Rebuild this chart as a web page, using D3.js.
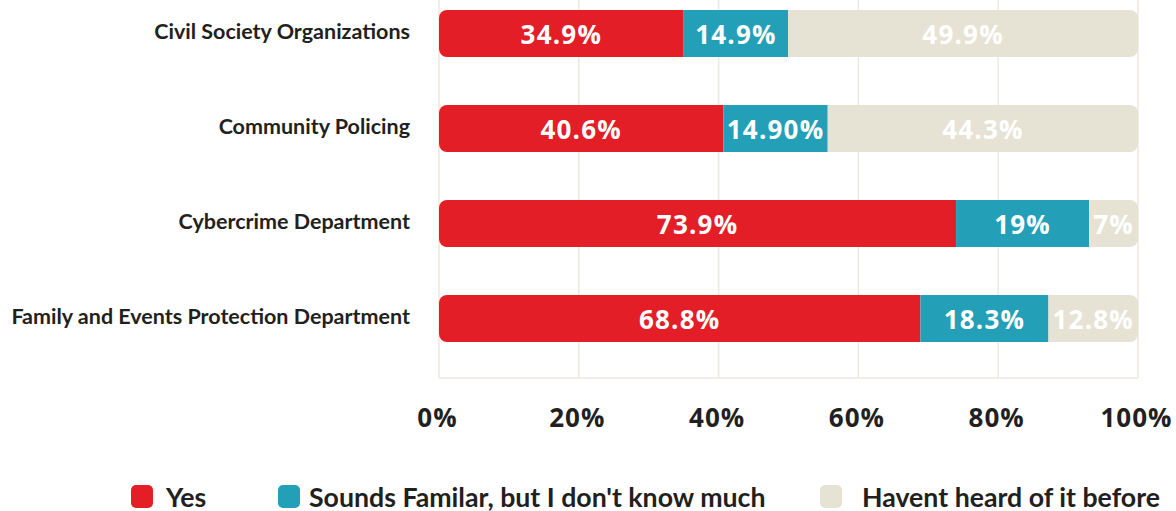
<!DOCTYPE html>
<html>
<head>
<meta charset="utf-8">
<script src="https://cdn.jsdelivr.net/npm/d3@7"></script>
<style>
  html, body { margin: 0; padding: 0; background: #ffffff; }
  svg { display: block; }
</style>
</head>
<body>
<svg id="chart" width="1176" height="511"></svg>
<script>
// Awareness of each service, by answer (percent, as reported)
const categories = [
  "Civil Society Organizations",
  "Community Policing",
  "Cybercrime Department",
  "Family and Events Protection Department"
];
const yesValues      = ["34.9", "40.6", "73.9", "68.8"];
const familiarValues = ["14.9", "14.90", "19", "18.3"];
const notHeardValues = ["49.9", "44.3", "7", "12.8"];

const seriesKeys   = ["yes", "familiar", "notHeard"];
const seriesNames  = ["Yes", "Sounds Familar, but I don't know much", "Havent heard of it before"];
const seriesColors = ["#e31e26", "#23a0b7", "#e6e3d4"];
const labelColors  = ["#ffffff", "#ffffff", "#ffffff"];
const tickValues   = [0, 0.2, 0.4, 0.6, 0.8, 1];

// Row records for the stack layout
const rows = categories.map((c, i) => ({
  category: c,
  yes: +yesValues[i],
  familiar: +familiarValues[i],
  notHeard: +notHeardValues[i],
  labels: { yes: yesValues[i], familiar: familiarValues[i], notHeard: notHeardValues[i] }
}));

// Each row is normalised to a full-width bar
const stacked = d3.stack().keys(seriesKeys).offset(d3.stackOffsetExpand)(rows);

const svg = d3.select("#chart");

const x = d3.scaleLinear().domain([0, 1]).range([439, 1138]);
const y = d3.scaleBand().domain(categories).range([-14, 366])
  .paddingInner(0.505).paddingOuter(0.2525);

const gridTop = 0, gridBottom = 378;

// Vertical gridlines and baseline
const grid = svg.append("g");
grid.selectAll("line.v").data(tickValues).join("line")
  .attr("class", "v")
  .attr("x1", d => x(d)).attr("x2", d => x(d))
  .attr("y1", gridTop).attr("y2", gridBottom)
  .attr("stroke", "#ece9de").attr("stroke-width", 1.5);
grid.append("line")
  .attr("x1", x(0)).attr("x2", x(1))
  .attr("y1", gridBottom).attr("y2", gridBottom)
  .attr("stroke", "#ece9de").attr("stroke-width", 1.5);

// Rounded outline for each bar, used as a clip
const defs = svg.append("defs");
categories.forEach((c, i) => {
  defs.append("clipPath").attr("id", "bar-clip-" + i)
    .append("rect")
    .attr("x", x(0)).attr("y", y(c))
    .attr("width", x(1) - x(0)).attr("height", y.bandwidth())
    .attr("rx", 8).attr("ry", 8);
});

const barsG = svg.append("g");
const rowG = barsG.selectAll("g.row").data(categories).join("g")
  .attr("class", "row")
  .attr("clip-path", (d, i) => `url(#bar-clip-${i})`);

rowG.each(function(c, i) {
  const g = d3.select(this);
  stacked.forEach((layer, k) => {
    const seg = layer[i];
    g.append("rect")
      .attr("x", x(seg[0]))
      .attr("y", y(c))
      .attr("width", x(seg[1]) - x(seg[0]))
      .attr("height", y.bandwidth())
      .attr("fill", seriesColors[k]);
  });
});

// Value labels centred in each segment
const labelG = svg.append("g")
  .attr("font-family", "'Open Sans', 'Noto Sans', sans-serif")
  .attr("font-weight", 700)
  .attr("font-size", 26)
  .attr("letter-spacing", 1.2)
  .attr("text-anchor", "middle");
stacked.forEach((layer, k) => {
  labelG.selectAll(null).data(layer).join("text")
    .attr("x", d => (x(d[0]) + x(d[1])) / 2)
    .attr("y", d => y(d.data.category) + y.bandwidth() / 2 + 10.5)
    .attr("fill", labelColors[k])
    .text(d => d.data.labels[seriesKeys[k]] + "%");
});

// Category labels
svg.append("g")
  .attr("font-family", "Lato, sans-serif")
  .attr("font-weight", 700)
  .attr("font-size", 21.5)
  .attr("fill", "#231f20")
  .attr("text-anchor", "end")
  .selectAll("text").data(categories).join("text")
  .attr("x", 410)
  .attr("y", d => y(d) + y.bandwidth() / 2 + 5)
  .text(d => d);

// Bottom axis
const xAxis = d3.axisBottom(x).tickValues(tickValues).tickFormat(d3.format(".0%")).tickSize(0).tickPadding(0);
const axisG = svg.append("g").attr("transform", `translate(0, ${gridBottom})`).call(xAxis);
axisG.select(".domain").remove();
axisG.selectAll("text")
  .attr("x", -2)
  .attr("y", 49).attr("dy", 0)
  .attr("font-family", "'Open Sans', 'Noto Sans', sans-serif")
  .attr("font-weight", 700)
  .attr("font-size", 26)
  .attr("letter-spacing", 1)
  .attr("fill", "#231f20");

// Legend
const legendSwatchX = [131, 278, 820];
const legendTextX = [166, 309, 862];
const legend = svg.append("g");
seriesNames.forEach((name, k) => {
  legend.append("rect")
    .attr("x", legendSwatchX[k]).attr("y", 485)
    .attr("width", 22).attr("height", 23)
    .attr("rx", 5).attr("ry", 5)
    .attr("fill", seriesColors[k]);
  legend.append("text")
    .attr("x", legendTextX[k]).attr("y", 506.5)
    .attr("font-family", "Lato, sans-serif")
    .attr("font-weight", 700)
    .attr("font-size", 26.7)
    .attr("fill", "#231f20")
    .text(name);
});
</script>
</body>
</html>
